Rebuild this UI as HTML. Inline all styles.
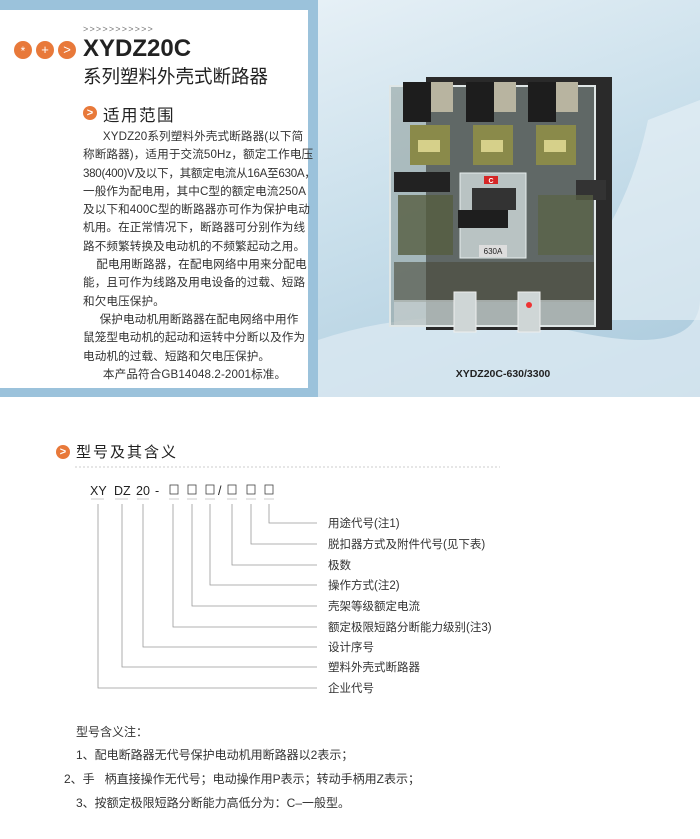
<!DOCTYPE html>
<html><head><meta charset="utf-8"><style>
body{margin:0;width:700px;height:839px;background:#fff;position:relative;overflow:hidden;font-family:"Liberation Sans","Noto Sans CJK SC",sans-serif;color:#333}
.a{position:absolute;white-space:nowrap}
.body p{margin:0;white-space:nowrap;letter-spacing:0.1px}
</style></head><body>
<div class="a" style="left:0;top:0;width:700px;height:397px;background:#9bc2db"></div>
<div class="a" style="left:318px;top:0;width:382px;height:397px;background:linear-gradient(160deg,#e6f0f6 0%,#c9dfeb 45%,#a9c9dc 100%)"></div>
<div class="a" style="left:0;top:10px;width:308px;height:378px;background:#fff"></div>
<svg class="a" style="left:318px;top:0" width="382" height="397">
<path d="M0 340 Q120 300 250 330 T382 300 L382 397 L0 397Z" fill="#dbe9f1" opacity=".8"/>
<path d="M330 120 Q300 260 200 320 L382 320 L382 100Z" fill="#eaf2f7" opacity=".6"/>
<rect x="108" y="77" width="186" height="253" fill="#2a2a2a"/>
<rect x="72" y="86" width="205" height="240" fill="#8d9a98" opacity=".55"/>
<rect x="72" y="86" width="205" height="240" fill="none" stroke="#dfe6e6" stroke-width="2"/>
<rect x="85" y="82" width="28" height="40" fill="#1d1d1d"/><rect x="148" y="82" width="28" height="40" fill="#1d1d1d"/><rect x="210" y="82" width="28" height="40" fill="#1d1d1d"/>
<rect x="113" y="82" width="22" height="30" fill="#b8b4a0"/><rect x="176" y="82" width="22" height="30" fill="#b8b4a0"/><rect x="238" y="82" width="22" height="30" fill="#b8b4a0"/>
<rect x="92" y="125" width="40" height="40" fill="#8a8a4a"/><rect x="155" y="125" width="40" height="40" fill="#8a8a4a"/><rect x="218" y="125" width="40" height="40" fill="#8a8a4a"/>
<rect x="100" y="140" width="22" height="12" fill="#d6d08a"/><rect x="163" y="140" width="22" height="12" fill="#d6d08a"/><rect x="226" y="140" width="22" height="12" fill="#d6d08a"/>
<rect x="76" y="172" width="56" height="20" fill="#222"/>
<rect x="258" y="180" width="30" height="20" fill="#333"/>
<rect x="80" y="195" width="55" height="60" fill="#555d40" opacity=".8"/>
<rect x="220" y="195" width="55" height="60" fill="#5a6345" opacity=".7"/>
<rect x="142" y="173" width="66" height="85" fill="#b9c3c3" stroke="#e6eeee"/>
<rect x="166" y="176" width="14" height="8" fill="#d52626"/><text x="173" y="183" font-size="7" fill="#fff" text-anchor="middle" font-weight="bold">C</text>
<rect x="154" y="188" width="44" height="22" fill="#333"/>
<rect x="140" y="210" width="50" height="18" fill="#1e1e1e"/>
<rect x="161" y="245" width="28" height="12" fill="#ddd"/><text x="175" y="254" font-size="8" fill="#222" text-anchor="middle">630A</text>
<rect x="76" y="262" width="200" height="40" fill="#4a4a38" opacity=".6"/>
<rect x="76" y="300" width="200" height="25" fill="#c8d0d0" opacity=".7"/>
<rect x="136" y="292" width="22" height="40" fill="#cfd6d6" stroke="#eee"/><rect x="200" y="292" width="22" height="40" fill="#cfd6d6" stroke="#eee"/>
<circle cx="211" cy="305" r="3" fill="#e33"/>
<text x="185" y="377" font-size="10.5" font-weight="bold" fill="#222" text-anchor="middle" font-family="Liberation Sans">XYDZ20C-630/3300</text>
</svg>
<div class="a" style="left:83px;top:24px;font-size:9px;color:#777;letter-spacing:1.2px">&gt;&gt;&gt;&gt;&gt;&gt;&gt;&gt;&gt;&gt;&gt;</div>
<div class="a" style="left:14px;top:41px;width:18px;height:18px;border-radius:50%;background:#e8793a;color:#fff;font-size:12px;text-align:center;line-height:20px">*</div>
<div class="a" style="left:36px;top:41px;width:18px;height:18px;border-radius:50%;background:#e8793a;color:#fff;font-size:13px;text-align:center;line-height:18px">+</div>
<div class="a" style="left:58px;top:41px;width:18px;height:18px;border-radius:50%;background:#e8793a;color:#fff;font-size:13px;text-align:center;line-height:18px">&gt;</div>
<div class="a" style="left:83px;top:35px;font-size:24px;font-weight:bold;color:#222">XYDZ20C</div>
<div class="a" style="left:83px;top:63px;font-size:18.5px;color:#222">系列塑料外壳式断路器</div>
<div class="a" style="left:83px;top:106px;width:14px;height:14px;border-radius:50%;background:#e8793a;color:#fff;font-size:11px;text-align:center;line-height:14px;font-weight:bold">&gt;</div>
<div class="a" style="left:103px;top:102px;font-size:16.5px;color:#222;letter-spacing:1.5px">适用范围</div>
<div class="a body" style="left:83px;top:128px;font-size:11.6px;line-height:18.3px;color:#333">
<p>&nbsp;&nbsp;&nbsp;&nbsp;&nbsp;&nbsp;XYDZ20系列塑料外壳式断路器(以下简</p>
<p>称断路器)，适用于交流50Hz，额定工作电压</p>
<p style="letter-spacing:-0.3px">380(400)V及以下，其额定电流从16A至630A，</p>
<p>一般作为配电用，其中C型的额定电流250A</p>
<p>及以下和400C型的断路器亦可作为保护电动</p>
<p>机用。在正常情况下，断路器可分别作为线</p>
<p>路不频繁转换及电动机的不频繁起动之用。</p>
<p>&nbsp;&nbsp;&nbsp;&nbsp;配电用断路器，在配电网络中用来分配电</p>
<p>能，且可作为线路及用电设备的过载、短路</p>
<p>和欠电压保护。</p>
<p>&nbsp;&nbsp;&nbsp;&nbsp;&nbsp;保护电动机用断路器在配电网络中用作</p>
<p>鼠笼型电动机的起动和运转中分断以及作为</p>
<p>电动机的过载、短路和欠电压保护。</p>
<p>&nbsp;&nbsp;&nbsp;&nbsp;&nbsp;&nbsp;本产品符合GB14048.2-2001标准。</p>
</div>
<div class="a" style="left:56px;top:445px;width:14px;height:14px;border-radius:50%;background:#e8793a;color:#fff;font-size:11px;text-align:center;line-height:14px;font-weight:bold">&gt;</div>
<div class="a" style="left:76px;top:441px;font-size:15px;color:#222;letter-spacing:2px">型号及其含义</div>
<svg class="a" style="left:0;top:460px" width="700" height="240">
<line x1="75" y1="7" x2="500" y2="7" stroke="#ccc" stroke-dasharray="2,2"/>
<g font-size="12.5" fill="#222" font-family="Liberation Sans">
<text x="90" y="35">XY</text><text x="114" y="35">DZ</text><text x="136" y="35">20</text><text x="155" y="35">-</text><text x="218" y="35">/</text>
</g>
<g fill="none" stroke="#444" stroke-width=".8">
<rect x="170" y="25" width="8" height="9"/><rect x="188" y="25" width="8" height="9"/><rect x="206" y="25" width="8" height="9"/>
<rect x="228" y="25" width="8" height="9"/><rect x="247" y="25" width="8" height="9"/><rect x="265" y="25" width="8" height="9"/>
</g>
<g stroke="#ccc"><line x1="91" y1="39" x2="104" y2="39"/><line x1="115" y1="39" x2="128" y2="39"/><line x1="137" y1="39" x2="149" y2="39"/>
<line x1="169" y1="39" x2="179" y2="39"/><line x1="187" y1="39" x2="197" y2="39"/><line x1="205" y1="39" x2="215" y2="39"/><line x1="227" y1="39" x2="237" y2="39"/><line x1="246" y1="39" x2="256" y2="39"/><line x1="264" y1="39" x2="274" y2="39"/></g>
<g fill="none" stroke="#999" stroke-width=".8">
<polyline points="269,44 269,63 317,63"/>
<polyline points="251,44 251,84 317,84"/>
<polyline points="232,44 232,105 317,105"/>
<polyline points="210,44 210,125 317,125"/>
<polyline points="192,44 192,146 317,146"/>
<polyline points="173,44 173,167 317,167"/>
<polyline points="143,44 143,187 317,187"/>
<polyline points="122,44 122,207 317,207"/>
<polyline points="98,44 98,228 317,228"/>
</g>
<g font-size="11.5" fill="#333">
<text x="328" y="67">用途代号(注1)</text>
<text x="328" y="88">脱扣器方式及附件代号(见下表)</text>
<text x="328" y="109">极数</text>
<text x="328" y="129">操作方式(注2)</text>
<text x="328" y="150">壳架等级额定电流</text>
<text x="328" y="171">额定极限短路分断能力级别(注3)</text>
<text x="328" y="191">设计序号</text>
<text x="328" y="211">塑料外壳式断路器</text>
<text x="328" y="232">企业代号</text>
</g>
</svg>
<div class="a" style="left:76px;top:723px;font-size:12px;color:#333">型号含义注：</div>
<div class="a" style="left:76px;top:746px;font-size:12px;color:#333">1、配电断路器无代号保护电动机用断路器以2表示；</div>
<div class="a" style="left:64px;top:770px;font-size:12px;color:#333">2、手&nbsp;&nbsp;&nbsp;柄直接操作无代号；电动操作用P表示；转动手柄用Z表示；</div>
<div class="a" style="left:76px;top:794px;font-size:12px;color:#333">3、按额定极限短路分断能力高低分为：C–一般型。</div>
</body></html>
